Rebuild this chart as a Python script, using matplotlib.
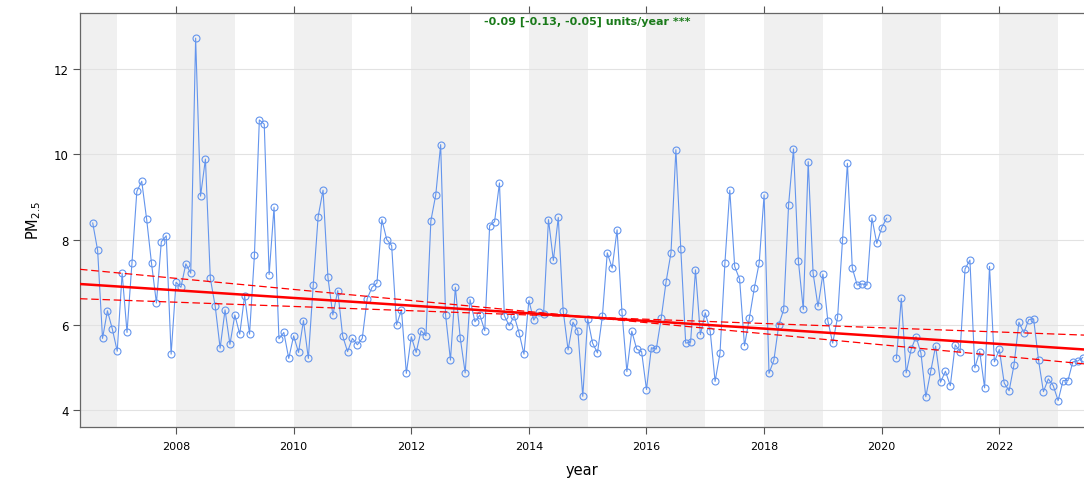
import numpy as np
import matplotlib
matplotlib.use("Agg")
import matplotlib.pyplot as plt
from matplotlib.ticker import MultipleLocator, FormatStrFormatter

# monthly mean PM2.5, starting Aug 2006 (nan = missing month)
start_year, start_month = 2006, 8
pm25 = [
    8.39, 7.75, 5.68, 6.33, 5.90,                                              # 2006 Aug-Dec
    5.38, 7.21, 5.82, 7.44, 9.13, 9.37, 8.48, 7.44, 6.51, 7.95, 8.09, 5.31,    # 2007
    7.00, 6.88, 7.43, 7.21, 12.73, 9.02, 9.89, 7.09, 6.43, 5.45, 6.35, 5.54,   # 2008
    6.23, 5.78, 6.68, 5.78, 7.64, 10.81, 10.71, 7.18, 8.76, 5.67, 5.82, 5.21,  # 2009
    5.74, 5.35, 6.10, 5.21, 6.94, 8.54, 9.16, 7.11, 6.23, 6.80, 5.74, 5.37,    # 2010
    5.68, 5.53, 5.68, 6.61, 6.88, 6.98, 8.47, 8.00, 7.86, 6.00, 6.35, 4.86,    # 2011
    5.72, 5.35, 5.86, 5.74, 8.44, 9.05, 10.23, 6.23, 5.17, 6.88, 5.69, 4.87,   # 2012
    6.59, 6.07, 6.23, 5.86, 8.33, 8.42, 9.33, 6.21, 5.98, 6.21, 5.81, 5.31,    # 2013
    6.57, 6.11, 6.29, 6.25, 8.47, 7.51, 8.52, 6.33, 5.41, 6.06, 5.85, 4.32,    # 2014
    6.14, 5.57, 5.34, 6.20, 7.69, 7.33, 8.23, 6.29, 4.90, 5.85, 5.43, 5.37,    # 2015
    4.48, 5.46, 5.43, 6.15, 7.01, 7.69, 10.11, 7.78, 5.57, 5.59, 7.29, 5.77,   # 2016
    6.28, 5.85, 4.67, 5.33, 7.44, 9.16, 7.37, 7.07, 5.51, 6.16, 6.86, 7.45,    # 2017
    9.05, 4.86, 5.17, 6.00, 6.36, 8.82, 10.13, 7.49, 6.36, 9.83, 7.21, 6.43,   # 2018
    7.19, 6.10, 5.57, 6.18, 8.00, 9.79, 7.33, 6.93, 6.96, 6.93, 8.51, 7.91,    # 2019
    8.28, 8.50, np.nan, 5.21, 6.62, 4.87, 5.42, 5.72, 5.34, 4.31, 4.91, 5.50,  # 2020
    4.65, 4.91, 4.57, 5.53, 5.37, 7.31, 7.52, 4.99, 5.37, 4.52, 7.37, 5.13,    # 2021
    5.42, 4.63, 4.45, 5.06, 6.06, 5.81, 6.12, 6.14, 5.17, 4.43, 4.73, 4.57,    # 2022
    4.22, 4.69, 4.69, 5.13, 5.15, 5.23,                                        # 2023 Jan-Jun
]

# Theil-Sen trend (units/year) and its value at the pivot date
slope, slope_lo, slope_hi = -0.09, -0.13, -0.05
pivot_year, pivot_value = 2015.0, 6.18
trend_label = "-0.09 [-0.13, -0.05] units/year ***"

# decimal year for each month
months = np.arange(len(pm25))
year = start_year + (start_month - 1 + months) / 12.0
pm25 = np.array(pm25)

x_min, x_max = 2006.367, 2023.44

fig = plt.figure(figsize=(10.84, 4.81), dpi=100)
ax = fig.add_axes([80 / 1084, 53 / 481, 1004 / 1084, 414 / 481])

# alternating shaded years
for y in range(2006, 2024, 2):
    ax.axvspan(y, y + 1, color="#f0f0f0", lw=0, zorder=0)
for v in [4, 6, 8, 10, 12]:
    ax.axhline(v, color="#e2e2e2", lw=0.8, zorder=0.5)

ax.plot(year, pm25, color="cornflowerblue", lw=0.8, marker="o", ms=5,
        mfc="none", mec="cornflowerblue", mew=0.8, zorder=2)

xs = np.array([x_min, x_max])
ax.plot(xs, pivot_value + slope * (xs - pivot_year), color="red", lw=1.8, zorder=3)
for s in (slope_lo, slope_hi):
    ax.plot(xs, pivot_value + s * (xs - pivot_year), color="red", lw=0.9,
            ls=(0, (6, 3)), zorder=3)

ax.text(0.505, 0.98, trend_label, transform=ax.transAxes, ha="center", va="center",
        color="#1a7a1a", fontsize=8, fontweight="bold")

ax.set_xlim(x_min, x_max)
ax.set_ylim(3.6, 13.32)
ax.xaxis.set_major_locator(MultipleLocator(2))
ax.xaxis.set_major_formatter(FormatStrFormatter("%d"))
ax.yaxis.set_major_locator(MultipleLocator(2))
ax.tick_params(axis="x", direction="out", top=True, length=5, labelsize=8,
               color="#555555", pad=5)
ax.tick_params(axis="y", direction="out", length=5, labelsize=8.5,
               color="#555555", pad=3)
for side in ("left", "top", "bottom"):
    ax.spines[side].set_color("#666666")
    ax.spines[side].set_linewidth(0.9)
ax.spines["right"].set_visible(False)

ax.set_xlabel("year", fontsize=10.5, labelpad=8)
ax.set_ylabel("PM$_{2.5}$", fontsize=10.5, labelpad=8)

fig.savefig("out.png", dpi=100)
